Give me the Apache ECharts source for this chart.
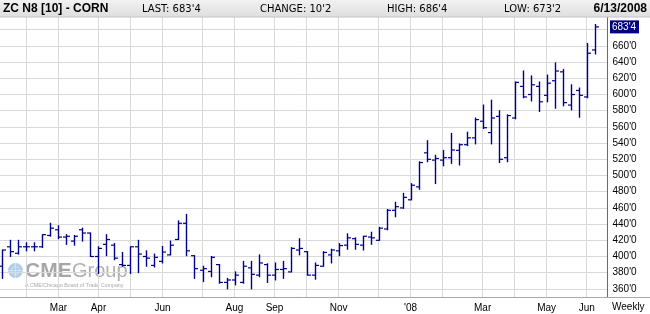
<!DOCTYPE html>
<html><head><meta charset="utf-8">
<script src="https://cdn.jsdelivr.net/npm/echarts@6/dist/echarts.min.js"></script>
<style>html,body{margin:0;padding:0;background:#fff}#c{width:650px;height:314px}</style>
</head><body><div id="c"></div>
<script>
// Weekly bars (Friday dates), ZC N8 corn
const weeks = [
 '2007-01-12','2007-01-19','2007-01-26','2007-02-02','2007-02-09','2007-02-16','2007-02-23',
 '2007-03-02','2007-03-09','2007-03-16','2007-03-23','2007-03-30','2007-04-06','2007-04-13',
 '2007-04-20','2007-04-27','2007-05-04','2007-05-11','2007-05-18','2007-05-25','2007-06-01',
 '2007-06-08','2007-06-15','2007-06-22','2007-06-29','2007-07-06','2007-07-13','2007-07-20',
 '2007-07-27','2007-08-03','2007-08-10','2007-08-17','2007-08-24','2007-08-31','2007-09-07',
 '2007-09-14','2007-09-21','2007-09-28','2007-10-05','2007-10-12','2007-10-19','2007-10-26',
 '2007-11-02','2007-11-09','2007-11-16','2007-11-23','2007-11-30','2007-12-07','2007-12-14',
 '2007-12-21','2007-12-28','2008-01-04','2008-01-11','2008-01-18','2008-01-25','2008-02-01',
 '2008-02-08','2008-02-15','2008-02-22','2008-02-29','2008-03-07','2008-03-14','2008-03-21',
 '2008-03-28','2008-04-04','2008-04-11','2008-04-18','2008-04-25','2008-05-02','2008-05-09',
 '2008-05-16','2008-05-23','2008-05-30','2008-06-06','2008-06-13'
];
const opens = [388,412,404,412,412,412,426,433,424,419,433,429,400,415,414,390,389,412,400,389,
 394,402,421,441,401,383,381.5,390,368,371,368,386,377,390,377,384,381,408,406,377,
 388,402,407,414,422,414,424,420,434,457,460,470,486,528,519,519,522,531,538,546.5,
 567,553,573,522,571,610,600,610,599,617,628,587,605,597,655];
const highs = [408,420,420,417,417,427,441,438,427,426,435,429,412,427,416,405,412,420,407,403,
 412.5,419,444,452,401,388,400,390,373,381,394,394,402,391,392,394,411,422,406,392,
 406,409,416,428,423,425,430,436,458,467,478,490,517,543,525,531,552,539,553.5,571,
 587,593,580,575,615.5,629,623,615.5,624,639,631,612,608,663,686.5];
const lows = [373,400,403,407,407,411,425,422,415,414,419,400,379,401,396,388,379,380,388,387,
 392,402,421,401,373,369,375,367,360,365,367,360,375,368,371,373,381,402,377,372,
 388,392,401,409,409,408,415,420,433,449,459.5,470,483,517,490,512,515,513,537,539,
 558,539,516,517,570,596,592,579,591,583,586,581,572,596,650];
const closes = [408,406,412,412,412,427,435,424,425,425,429,400,410,421,398,389,412,403,398,399,
 405.5,414,441,407,385,385,399,368,371,377,388,378,392,377,384,385,410,410,377,389,
 405,408,413.5,423,415,425,423,435,457,461.5,473,488,516,520,521,522,531.5,538,546.5,569,
 559,571,520,574,615,597,612,591,614,629,590,600,599,651,683.5];
const yGridValues = [360,380,400,420,440,460,480,500,520,540,560,580,600,620,640,660,680];
const yLabelValues = [360,380,400,420,440,460,480,500,520,540,560,580,600,620,640,660];
const xLabelWeeks = ['2007-03-02','2007-04-06','2007-06-01','2007-08-03','2007-09-07','2007-11-02','2008-01-04','2008-03-07','2008-05-02','2008-06-06'];
const xLabelText = ['Mar','Apr','Jun','Aug','Sep','Nov',"'08",'Mar','May','Jun'];
const header = {title:'ZC N8 [10] - CORN', last:"LAST: 683'4", change:"CHANGE: 10'2", high:"HIGH: 686'4", low:"LOW: 673'2", date:'6/13/2008'};

// month-start grid lines: first weekly bar of each new month
const xGridIdx = [];
for (let i = 1; i < weeks.length; i++) if (weeks[i].slice(5,7) !== weeks[i-1].slice(5,7)) xGridIdx.push(i);
const xLabelIdx = xLabelWeeks.map(d => weeks.indexOf(d));
const data = weeks.map((d,i) => [i, opens[i], highs[i], lows[i], closes[i]]);
const fmtPrice = v => { const w = Math.floor(v), e = Math.round((v - w) * 8); return w + "'" + e; };

const BAR = '#00008b';
const chart = echarts.init(document.getElementById('c'), null, {renderer:'canvas'});
chart.setOption({
  animation:false,
  backgroundColor:'#ffffff',
  grid:{left:0, right:42.5, top:17, bottom:17, containLabel:false},
  xAxis:{
    type:'value', min:-0.3, max:75.6,
    axisLine:{show:true, onZero:false, lineStyle:{color:'#a8a8a8', width:1}},
    axisTick:{show:false, customValues:xGridIdx},
    splitLine:{show:true, lineStyle:{color:'#d9d9d9', width:1}},
    axisLabel:{customValues:xLabelIdx, margin:6, color:'#000', fontFamily:'Liberation Sans', fontSize:10,
      formatter:v => xLabelText[xLabelIdx.indexOf(Math.round(v))] || ''}
  },
  yAxis:{
    type:'value', position:'right', min:350, max:695.7, scale:true,
    axisLine:{show:true, onZero:false, lineStyle:{color:'#6a6a6a', width:1}},
    axisTick:{show:false, customValues:yGridValues},
    splitLine:{show:true, lineStyle:{color:'#d9d9d9', width:1}},
    axisLabel:{customValues:yLabelValues, margin:5, color:'#000', fontFamily:'Liberation Sans', fontSize:10,
      formatter:v => fmtPrice(v)}
  },
  series:[{
    type:'custom', z:5,
    encode:{x:0, y:[1,2,3,4]},
    data:data,
    renderItem:(params, api) => {
      const x = api.value(0);
      const o = api.coord([x, api.value(1)]);
      const h = api.coord([x, api.value(2)]);
      const l = api.coord([x, api.value(3)]);
      const c = api.coord([x, api.value(4)]);
      const px = Math.round(o[0]) + 0.5;
      const st = {stroke:BAR, lineWidth:1.4};
      const ts = {stroke:BAR, lineWidth:1.2};
      return {type:'group', children:[
        {type:'line', shape:{x1:px, y1:h[1]-0.5, x2:px, y2:l[1]+0.5}, style:st},
        {type:'line', shape:{x1:px-3.5, y1:o[1], x2:px, y2:o[1]}, style:ts},
        {type:'line', shape:{x1:px, y1:c[1], x2:px+3.5, y2:c[1]}, style:ts}
      ]};
    }
  }],
  graphic:[
    // CME Group watermark
    {type:'group', z:-1, silent:true, children:[
      {type:'circle', shape:{cx:15.5, cy:270.5, r:7.5}, style:{fill:'#a9c8e6', opacity:0.9}},
      {type:'circle', shape:{cx:15.5, cy:270.5, r:4}, style:{fill:'none', stroke:'#ffffff', lineWidth:0.6, opacity:0.7}},
      {type:'line', shape:{x1:8, y1:270.5, x2:23, y2:270.5}, style:{stroke:'#ffffff', lineWidth:0.6, opacity:0.7}},
      {type:'line', shape:{x1:15.5, y1:263, x2:15.5, y2:278}, style:{stroke:'#ffffff', lineWidth:0.6, opacity:0.7}},
      {type:'text', style:{text:'CME', x:25, y:271, fill:'#979797', font:'bold 21px "Liberation Sans"', verticalAlign:'middle', textVerticalAlign:'middle', opacity:0.85}},
      {type:'text', style:{text:'Group', x:72, y:271, fill:'#a2a2a2', font:'20px "Liberation Sans"', verticalAlign:'middle', textVerticalAlign:'middle', opacity:0.85}},
      {type:'text', style:{text:'A CME/Chicago Board of Trade Company', x:25, y:285.5, fill:'#a8a8a8', font:'5.3px "Liberation Sans"', verticalAlign:'middle', textVerticalAlign:'middle'}}
    ]},
    // header bar
    {type:'rect', z:50, shape:{x:0, y:0, width:650, height:17},
      style:{fill:new echarts.graphic.LinearGradient(0,0,0,1,[{offset:0,color:'#f2f2f2'},{offset:1,color:'#dedede'}])}},
    {type:'line', z:51, shape:{x1:0, y1:17, x2:650, y2:17}, style:{stroke:'#c4c4c4', lineWidth:1}},
    {type:'text', z:52, style:{text:header.title, x:3, y:9, fill:'#000', font:'bold 12px "Liberation Sans"', verticalAlign:'middle', textVerticalAlign:'middle'}},
    {type:'text', z:52, style:{text:header.last, x:142, y:9, fill:'#000', font:'10px "DejaVu Sans"', verticalAlign:'middle', textVerticalAlign:'middle'}},
    {type:'text', z:52, style:{text:header.change, x:260, y:9, fill:'#000', font:'10px "DejaVu Sans"', verticalAlign:'middle', textVerticalAlign:'middle'}},
    {type:'text', z:52, style:{text:header.high, x:387, y:9, fill:'#000', font:'10px "DejaVu Sans"', verticalAlign:'middle', textVerticalAlign:'middle'}},
    {type:'text', z:52, style:{text:header.low, x:504, y:9, fill:'#000', font:'10px "DejaVu Sans"', verticalAlign:'middle', textVerticalAlign:'middle'}},
    {type:'text', z:52, style:{text:header.date, x:647, y:9, fill:'#000', font:'bold 12px "Liberation Sans"', align:'right', textAlign:'right', verticalAlign:'middle', textVerticalAlign:'middle'}},
    // bottom rule under label column and frequency label
    {type:'line', z:10, shape:{x1:607, y1:297.5, x2:650, y2:297.5}, style:{stroke:'#a8a8a8', lineWidth:1}},
    {type:'text', z:10, style:{text:'Weekly', x:612, y:307, fill:'#000', font:'10px "Liberation Sans"', verticalAlign:'middle', textVerticalAlign:'middle'}}
  ]
});
// last-price marker placed through the y-axis scale
const lastClose = closes[closes.length-1];
const yLast = chart.convertToPixel({yAxisIndex:0}, lastClose);
chart.setOption({graphic:[
  {type:'rect', id:'lastBox', z:20, shape:{x:610, y:yLast-6.5, width:29, height:13}, style:{fill:'#000080'}},
  {type:'text', id:'lastTxt', z:21, style:{text:fmtPrice(lastClose), x:612, y:yLast, fill:'#fff', font:'10px "Liberation Sans"', verticalAlign:'middle', textVerticalAlign:'middle'}}
]});
</script></body></html>
